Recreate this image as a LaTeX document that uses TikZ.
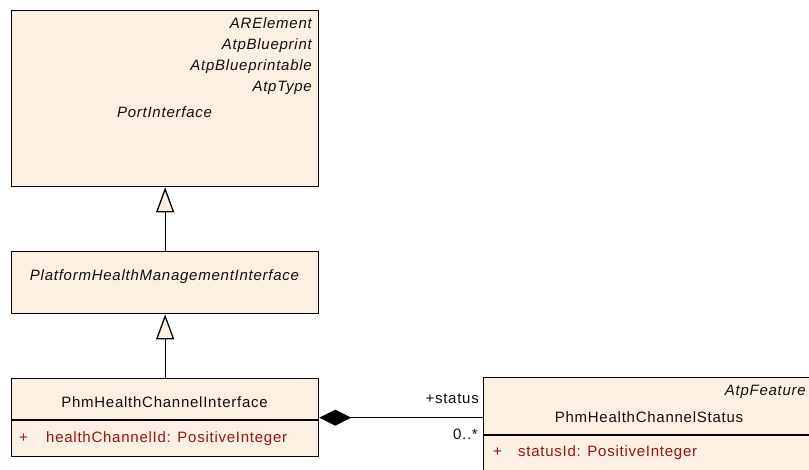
\documentclass[tikz,border=0pt]{standalone}
\usepackage{fontspec}
\setmainfont{Liberation Sans}[LetterSpace=5]
\usetikzlibrary{arrows.meta}
\definecolor{boxfill}{RGB}{251,240,226}
\definecolor{attrred}{RGB}{150,20,20}
\definecolor{txt}{RGB}{15,15,15}
\tikzset{
  umlbox/.style={draw=black, fill=boxfill, line width=1.3pt, rectangle, inner sep=0pt, anchor=north west},
  lbl/.style={inner sep=0pt, text=txt, font=\fontsize{15}{18}\selectfont},
  ilbl/.style={lbl, font=\fontsize{15}{18}\selectfont\itshape},
  attr/.style={inner sep=0pt, text=attrred, font=\fontsize{15}{18}\selectfont},
  gen/.style={line width=1.3pt, -{Triangle[length=25pt,width=18pt,fill=boxfill]}},
  comp/.style={line width=1.3pt, {Diamond[length=32pt,width=16pt]}-},
}
\begin{document}
\begin{tikzpicture}[x=1pt,y=-1pt]
\useasboundingbox (0,0) rectangle (809,469);
% boxes
\node[umlbox, minimum width=307pt, minimum height=176pt] (pi) at (11,10) {};
\node[umlbox, minimum width=307pt, minimum height=62pt] (phm) at (11,251) {};
\node[umlbox, minimum width=307pt, minimum height=78pt] (phc) at (11,378) {};
\node[umlbox, minimum width=360pt, minimum height=110pt] (st) at (483,377) {};
\draw[line width=1.3pt] (11,420) coordinate (d1a) -- (318,420) coordinate (d1b);
\draw[line width=1.3pt] (483,435) coordinate (d2a) -- (843,435) coordinate (d2b);
% texts box 1
\node[ilbl, anchor=base east] (t1) at (312,28) {ARElement};
\node[ilbl, anchor=base east] (t2) at (312,49) {AtpBlueprint};
\node[ilbl, anchor=base east] (t3) at (312,70) {AtpBlueprintable};
\node[ilbl, anchor=base east] (t4) at (312,91) {AtpType};
\node[ilbl, anchor=base] (t5) at (164.5,117) {PortInterface};
% box 2
\node[ilbl, anchor=base] (t6) at (164.5,280) {PlatformHealthManagementInterface};
% box 3
\node[lbl, anchor=base] (t7) at (164.5,407) {PhmHealthChannelInterface};
\node[attr, anchor=base west] (t8) at (19,442) {+};
\node[attr, anchor=base west] (t9) at (46,442) {healthChannelId: PositiveInteger};
% box 4
\node[ilbl, anchor=base east] (t10) at (806,395) {AtpFeature};
\node[lbl, anchor=base] (t11) at (649,422) {PhmHealthChannelStatus};
\node[attr, anchor=base west] (t12) at (493,456) {+};
\node[attr, anchor=base west] (t13) at (518,456) {statusId: PositiveInteger};
% connectors
\draw[gen] (phm.north) -- (pi.south);
\draw[gen] (phc.north) -- (phm.south);
\coordinate (ce) at (phc.east);
\draw[comp] (ce) -- (ce -| st.west);
\node[lbl, anchor=base east] (r1) at (479,403) {+status};
\node[lbl, anchor=base east] (r2) at (478,439) {0..*};
\end{tikzpicture}
\end{document}
